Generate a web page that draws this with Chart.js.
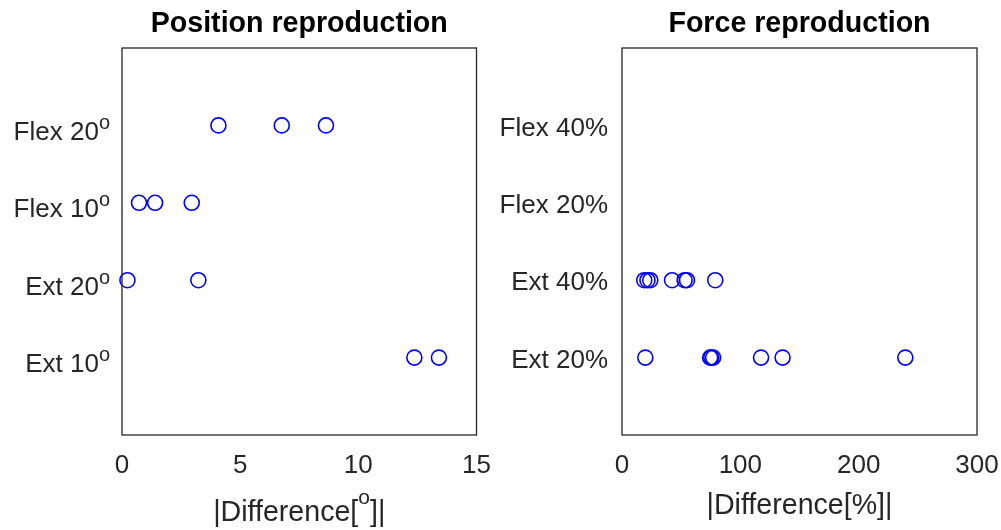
<!DOCTYPE html>
<html>
<head>
<meta charset="utf-8">
<title>Position and force reproduction</title>
<script src="https://cdn.jsdelivr.net/npm/chart.js@4.4.1/dist/chart.umd.min.js"></script>
<style>
  html, body { margin: 0; padding: 0; background: #ffffff; }
  #wrap { position: relative; width: 1001px; height: 530px; overflow: hidden; }
  .panel { position: absolute; top: 0; height: 530px; }
</style>
</head>
<body>
<div id="wrap">
  <div class="panel" style="left:0; width:500px;"><canvas id="positionChart"></canvas></div>
  <div class="panel" style="left:500px; width:501px;"><canvas id="forceChart"></canvas></div>
</div>
<script>
// ---- data: absolute reproduction error per condition ----
const positionCategories = ['Ext 10', 'Ext 20', 'Flex 10', 'Flex 20']; // degrees, drawn with superscript "o"
const positionExt10  = [12.37, 13.41];
const positionExt20  = [0.23, 3.23];
const positionFlex10 = [0.72, 1.40, 2.95];
const positionFlex20 = [4.08, 6.76, 8.63];

const forceCategories = ['Ext 20%', 'Ext 40%', 'Flex 20%', 'Flex 40%'];
const forceExt20  = [19.7, 74.5, 75.5, 77.0, 117.5, 135.7, 239.4];
const forceExt40  = [18.8, 21.5, 23.9, 42.3, 52.9, 54.9, 78.8];
const forceFlex20 = [];
const forceFlex40 = [];

const positionTicks = [0, 5, 10, 15];
const forceTicks = [0, 100, 200, 300];

// ---- helpers ----
const FONT = "'Liberation Sans', Arial, Helvetica, sans-serif";
const TEXT_GREY = '#262626';
const MARKER_BLUE = 'rgb(0,0,255)';

function toPoints(rows) {
  const pts = [];
  rows.forEach((vals, i) => vals.forEach(v => pts.push({ x: v, y: i + 1 })));
  return pts;
}

// draw a run of [text, isSuperscript] pieces starting at x
function drawRich(ctx, pieces, x, baseline, mainFont, supFont, supRise) {
  let cx = x;
  pieces.forEach(([txt, sup]) => {
    ctx.font = sup ? supFont : mainFont;
    ctx.fillText(txt, cx, sup ? baseline - supRise : baseline);
    cx += ctx.measureText(txt).width;
  });
}
function richWidth(ctx, pieces, mainFont, supFont) {
  let w = 0;
  pieces.forEach(([txt, sup]) => { ctx.font = sup ? supFont : mainFont; w += ctx.measureText(txt).width; });
  return w;
}

// frame, title, axis label and (optionally) superscripted category labels
const decorations = {
  id: 'decorations',
  afterDraw(chart, args, opts) {
    const { ctx, chartArea: a } = chart;
    ctx.save();
    // axes box
    ctx.strokeStyle = TEXT_GREY;
    ctx.lineWidth = 1.3;
    ctx.strokeRect(a.left, a.top, a.right - a.left, a.bottom - a.top);

    const cx = (a.left + a.right) / 2;
    // title
    ctx.fillStyle = '#000000';
    ctx.font = 'bold 28.6px ' + FONT;
    ctx.textAlign = 'center';
    ctx.textBaseline = 'alphabetic';
    ctx.fillText(opts.title, cx, 32);

    // x axis label
    ctx.fillStyle = TEXT_GREY;
    ctx.textAlign = 'left';
    const mainL = '28.6px ' + FONT, supL = '21px ' + FONT;
    const w = richWidth(ctx, opts.xLabel, mainL, supL);
    drawRich(ctx, opts.xLabel, cx - w / 2, opts.xLabelBaseline, mainL, supL, 17);

    // category labels with superscript degree mark
    if (opts.degreeLabels) {
      const yScale = chart.scales.y;
      const mainT = '26px ' + FONT, supT = '20px ' + FONT;
      opts.degreeLabels.forEach((lab, i) => {
        const y = yScale.getPixelForValue(i + 1);
        const pieces = [[lab, false], ['o', true]];
        const lw = richWidth(ctx, pieces, mainT, supT);
        drawRich(ctx, pieces, a.left - 12 - lw, y + 14.5, mainT, supT, 11);
      });
    }
    ctx.restore();
  }
};

function makeChart(canvasId, rows, xMax, xTicks, rightPad, yTickCallback, decoOpts) {
  return new Chart(document.getElementById(canvasId), {
    type: 'scatter',
    data: {
      datasets: [{
        data: toPoints(rows),
        pointStyle: 'circle',
        pointRadius: 7.5,
        pointBorderWidth: 1.6,
        borderColor: MARKER_BLUE,
        backgroundColor: 'rgba(0,0,0,0)',
        clip: false
      }]
    },
    options: {
      responsive: true,
      maintainAspectRatio: false,
      animation: false,
      events: [],
      layout: { padding: { top: 48, right: rightPad, bottom: 0, left: 0 } },
      plugins: {
        legend: { display: false },
        tooltip: { enabled: false },
        decorations: decoOpts
      },
      scales: {
        x: {
          type: 'linear',
          min: 0,
          max: xMax,
          afterBuildTicks: s => { s.ticks = xTicks.map(v => ({ value: v })); },
          afterFit: s => { s.height = 95; s.paddingLeft = 0; s.paddingRight = 0; },
          grid: { display: false, drawTicks: false },
          border: { display: false },
          ticks: { color: TEXT_GREY, font: { family: FONT, size: 26 }, padding: 15, maxRotation: 0 }
        },
        y: {
          type: 'linear',
          min: 0,
          max: 5,
          afterBuildTicks: s => { s.ticks = [1, 2, 3, 4].map(v => ({ value: v })); },
          afterFit: s => { s.width = 122; s.paddingTop = 0; s.paddingBottom = 0; },
          grid: { display: false, drawTicks: false },
          border: { display: false },
          ticks: {
            display: !!yTickCallback,
            color: TEXT_GREY,
            font: { family: FONT, size: 26 },
            padding: 14,
            labelOffset: 3,
            callback: yTickCallback || (() => '')
          }
        }
      }
    },
    plugins: [decorations]
  });
}

makeChart('positionChart',
  [positionExt10, positionExt20, positionFlex10, positionFlex20],
  15, positionTicks, 23.5, null,
  {
    title: 'Position reproduction',
    xLabel: [['|Difference[', false], ['o', true], [']|', false]],
    xLabelBaseline: 520.5,
    degreeLabels: positionCategories
  });

makeChart('forceChart',
  [forceExt20, forceExt40, forceFlex20, forceFlex40],
  300, forceTicks, 24, v => forceCategories[v - 1],
  {
    title: 'Force reproduction',
    xLabel: [['|Difference[%]|', false]],
    xLabelBaseline: 514
  });
</script>
</body>
</html>
